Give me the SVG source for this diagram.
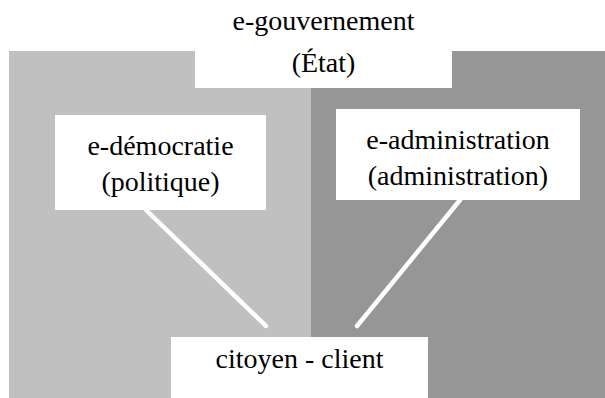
<svg xmlns="http://www.w3.org/2000/svg" width="605" height="398" viewBox="0 0 605 398">
<style>
.box{fill:#ffffff}
.t{font-family:"Liberation Serif","Times New Roman",serif;font-size:28px;fill:#000;text-anchor:middle}
.conn{stroke:#ffffff;stroke-width:4.5;stroke-linecap:round;fill:none}
</style>
<rect width="605" height="398" fill="#ffffff"/>
<rect x="9" y="51" width="302" height="347" fill="#c0c0c0"/>
<rect x="311" y="51" width="294" height="347" fill="#969696"/>
<g id="connectors">
<line class="conn" x1="146" y1="210" x2="266" y2="326"/>
<line class="conn" x1="460" y1="200" x2="357" y2="326"/>
</g>
<g id="egouvernement">
<rect class="box" x="195" y="0" width="257" height="88"/>
<text class="t" x="323.5" y="30">e-gouvernement</text>
<text class="t" x="323.5" y="72">(État)</text>
</g>
<g id="edemocratie">
<rect class="box" x="55" y="115" width="211" height="95"/>
<text class="t" x="160.5" y="155">e-démocratie</text>
<text class="t" x="160.5" y="191">(politique)</text>
</g>
<g id="eadministration">
<rect class="box" x="336" y="109" width="244" height="91"/>
<text class="t" x="458" y="149">e-administration</text>
<text class="t" x="458" y="185">(administration)</text>
</g>
<g id="citoyen">
<rect class="box" x="171" y="337" width="257" height="61"/>
<text class="t" x="299.5" y="368">citoyen - client</text>
</g>
</svg>
